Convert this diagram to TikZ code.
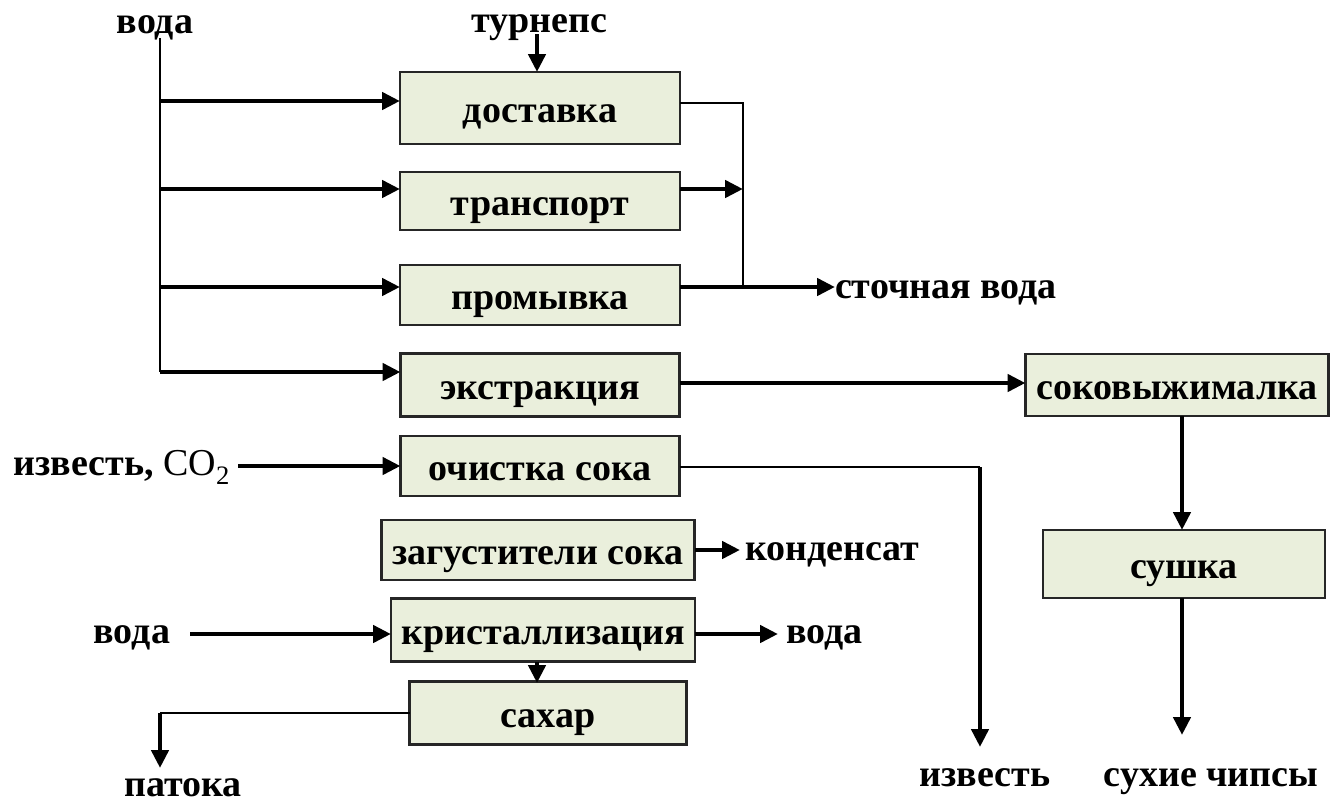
\documentclass[tikz,border=0pt]{standalone}
\usepackage{fontspec}
\setmainfont{Liberation Serif}
\usetikzlibrary{arrows.meta}
\definecolor{boxfill}{RGB}{234,239,220}
\tikzset{
  procbox/.style={draw=black!85, line width=2.5pt, fill=boxfill, inner sep=0pt, outer sep=0pt,
    font=\fontsize{38}{42}\selectfont\bfseries, text height=28pt, text depth=0pt},
  lbl/.style={inner sep=0pt, outer sep=0pt, font=\fontsize{38}{42}\selectfont\bfseries,
    text height=17pt, text depth=0pt},
  thickarr/.style={line width=4.5pt, -{Triangle[length=18pt,width=17pt]}},
  thinline/.style={line width=2pt},
}
\begin{document}
\begin{tikzpicture}[x=1pt,y=-1pt]
\useasboundingbox (0,0) rectangle (1331,809);
\fill[white] (0,0) rectangle (1331,809);
% boxes
\node[procbox, minimum width=280pt, minimum height=72pt] (dost) at (540,108) {доставка};
\node[procbox, minimum width=280pt, minimum height=58pt] (trans) at (540,201) {транспорт};
\node[procbox, minimum width=280pt, minimum height=60pt] (prom) at (540,295) {промывка};
\node[procbox, minimum width=279pt, minimum height=63pt] (ext) at (540,385) {экстракция};
\node[procbox, minimum width=279pt, minimum height=60pt] (ochi) at (540,466) {очистка сока};
\node[procbox, minimum width=313pt, minimum height=60pt] (zag) at (538,550) {загустители сока};
\node[procbox, minimum width=304pt, minimum height=63pt] (kris) at (543,630) {кристаллизация};
\node[procbox, minimum width=277pt, minimum height=63pt] (sah) at (548,713) {сахар};
\node[procbox, minimum width=303pt, minimum height=62pt] (sok) at (1177,385) {соковыжималка};
\node[procbox, minimum width=282pt, minimum height=68pt] (sush) at (1184,564) {сушка};
% labels
\node[lbl] (voda1) at (155,25) {вода};
\node[lbl] (turn) at (539,24) {турнепс};
\node[lbl, anchor=west] (stoch) at (835,290) {сточная вода};
\node[lbl, anchor=east] (izv1) at (230,467) {известь, {\mdseries CO\textsubscript{2}}};
\node[lbl, anchor=west] (kond) at (745,552) {конденсат};
\node[lbl, anchor=east] (voda2) at (170,635) {вода};
\node[lbl, anchor=west] (voda3) at (786,635) {вода};
\node[lbl] (pat) at (183,788) {патока};
\node[lbl] (izv2) at (985,778) {известь};
\node[lbl] (chips) at (1211,778) {сухие чипсы};
% water feed line
\coordinate (w0) at (160,38);
\coordinate (w1) at (160,101);
\coordinate (w2) at (160,189);
\coordinate (w3) at (160,287);
\coordinate (w4) at (160,372);
\draw[thinline] (w0) -- (w4);
\draw[thickarr] (w1) -- (w1 -| dost.west);
\draw[thickarr] (w2) -- (w2 -| trans.west);
\draw[thickarr] (w3) -- (w3 -| prom.west);
\draw[thickarr] (w4) -- (w4 -| ext.west);
% turnips
\coordinate (t0) at (537,34);
\draw[thickarr] (t0) -- (t0 |- dost.north);
% collector
\coordinate (c1) at (743,103);
\coordinate (c2) at (743,189);
\coordinate (c3) at (743,287);
\draw[thinline] (c1 -| dost.east) -- (c1) -- (c3);
\draw[thickarr] (c2 -| trans.east) -- (c2);
\draw[thickarr] (c3 -| prom.east) -- (c3 -| stoch.west);
% extraction -> press
\coordinate (e1) at (680,383);
\draw[thickarr] (e1 -| ext.east) -- (e1 -| sok.west);
% lime, CO2
\coordinate (i0) at (238,466);
\draw[thickarr] (i0) -- (i0 -| ochi.west);
% lime out
\coordinate (l1) at (980,467);
\coordinate (l2) at (980,747);
\draw[thinline] (l1 -| ochi.east) -- (l1);
\draw[thickarr] (l1) -- (l2);
% condensate
\coordinate (k0) at (740,550);
\draw[thickarr] (k0 -| zag.east) -- (k0);
% crystallization water
\coordinate (k1) at (190,634);
\coordinate (k2) at (778,634);
\draw[thickarr] (k1) -- (k1 -| kris.west);
\draw[thickarr] (k2 -| kris.east) -- (k2);
% to sugar
\coordinate (s0) at (537,683);
\draw[thickarr] (s0 |- kris.south) -- (s0);
% molasses
\coordinate (m1) at (160,713);
\coordinate (m2) at (160,768);
\draw[thinline] (sah.west) -- (m1);
\draw[thickarr] (m1) -- (m2);
% press -> drying -> chips
\coordinate (s1) at (1182,416);
\draw[thickarr] (s1) -- (s1 |- sush.north);
\coordinate (s2) at (1182,735);
\draw[thickarr] (s2 |- sush.south) -- (s2);
\end{tikzpicture}
\end{document}
